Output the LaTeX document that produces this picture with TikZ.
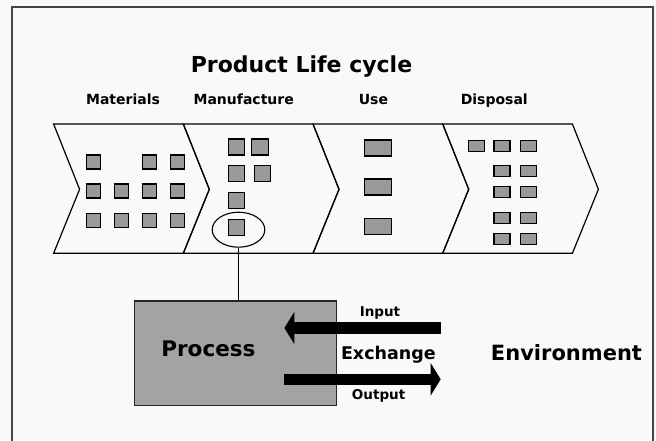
\documentclass[tikz,border=0pt]{standalone}
\usepackage{fontspec}
\setsansfont{DejaVu Sans}
\usetikzlibrary{arrows.meta,shapes.geometric}

\definecolor{paper}{HTML}{F9F9F9}
\definecolor{framegray}{HTML}{444444}
\definecolor{partgray}{HTML}{999999}
\definecolor{boxgray}{HTML}{A3A3A3}

\begin{document}
\begin{tikzpicture}[
    x=1pt, y=-1pt,
    font=\sffamily\bfseries,
    % Style for the four stage chevrons
    stage/.style={
        line width=1.2pt
    },
    % Style for the small component boxes
    part/.style={
        draw=black,
        fill=partgray,
        line width=1.1pt
    },
    % Text styles
    heading/.style={anchor=base, font=\sffamily\bfseries\fontsize{22}{26}\selectfont},
    stagelabel/.style={anchor=base, font=\sffamily\bfseries\fontsize{14}{17}\selectfont},
    biglabel/.style={anchor=base, font=\sffamily\bfseries\fontsize{21.5}{25}\selectfont},
    smalllabel/.style={anchor=base, font=\sffamily\bfseries\fontsize{13.5}{16}\selectfont},
    % Style for the thick exchange arrows
    flow/.style={
        line width=11.6pt,
        -{Triangle[length=10pt, width=32pt]}
    }
]

% --- Paper and frame ---
\fill[paper] (0,0) rectangle (656,440);
\useasboundingbox (0,0) rectangle (656,440);
\draw[framegray, line width=2pt] (11.5,446) -- (11.5,6.5) -- (653,6.5) -- (653,446);

% --- Titles ---
\node[heading] (title) at (301.5,72.7) {Product Life cycle};
\foreach \name/\x/\txt in {mat/123/Materials, man/243.7/Manufacture, use/373.4/Use, dis/494.3/Disposal}
    \node[stagelabel] (\name) at (\x,104.3) {\txt};

% --- Stage chevrons ---
\foreach \i in {0,...,3}
    \draw[stage, shift={({53.6+129.7*\i},0)}]
        (0,124) -- (129.7,124) -- (155.7,189.3) -- (129.7,253.3) -- (0,253.3) -- (26,189.3) -- cycle;

% --- Materials: 14x14 boxes ---
\foreach \x/\y in {93.3/162, 149.3/162, 177.5/162,
                   93.3/191, 121.3/191, 149.3/191, 177.5/191,
                   93.3/220.3, 121.3/220.3, 149.3/220.3, 177.5/220.3}
    \draw[part, shift={(\x,\y)}] (-7,-7) rectangle (7,7);

% --- Manufacture: 16x16 boxes ---
\foreach \x/\y in {236.7/147, 260/147, 236.7/173.7, 262.3/173.7, 236.7/200.3, 236.5/227.3}
    \draw[part, shift={(\x,\y)}] (-8.2,-8) rectangle (8.2,8);

% --- Use: wide boxes ---
\foreach \y in {148, 187, 226.2}
    \draw[part, shift={(378,\y)}] (-13.3,-8) rectangle (13.3,8);

% --- Disposal: flat boxes ---
\foreach \x/\y in {476.3/146, 502/146, 528.3/146,
                   502/171.3, 528.3/171.3, 502/192, 528.3/192,
                   502/218.3, 528.3/218.3, 502/239, 528.3/239}
    \draw[part, shift={(\x,\y)}] (-8,-5.5) rectangle (8,5.5);

% --- Zoomed process ---
\node[draw, ellipse, line width=1.1pt, minimum width=52.6pt, minimum height=35pt, inner sep=0pt] (focus) at (238.5,229.7) {};
\node[draw=black!85, fill=boxgray, line width=1.3pt, minimum width=202pt, minimum height=104.3pt, inner sep=0pt] (process) at (235.4,353.2) {};
\node[biglabel] (proctext) at (208.4,356.7) {Process};
\draw[line width=1.1pt] (focus.south) -- (process.north -| focus.south);

% --- Exchange with the environment ---
\coordinate (inStart) at (440.7,328);
\coordinate (inEnd) at (284.4,328);
\coordinate (outStart) at (284.4,379.3);
\coordinate (outEnd) at (440.7,379.3);
\draw[flow] (inStart) -- (inEnd);
\draw[flow] (outStart) -- (outEnd);

\node[smalllabel] (input) at (380,316.7) {Input};
\node[anchor=base, font=\sffamily\bfseries\fontsize{17.5}{21}\selectfont] (exchange) at (388.4,359) {Exchange};
\node[smalllabel] (output) at (378.6,399) {Output};
\node[biglabel, font=\sffamily\bfseries\fontsize{21}{25}\selectfont] (env) at (566.5,360.7) {Environment};

\end{tikzpicture}
\end{document}
